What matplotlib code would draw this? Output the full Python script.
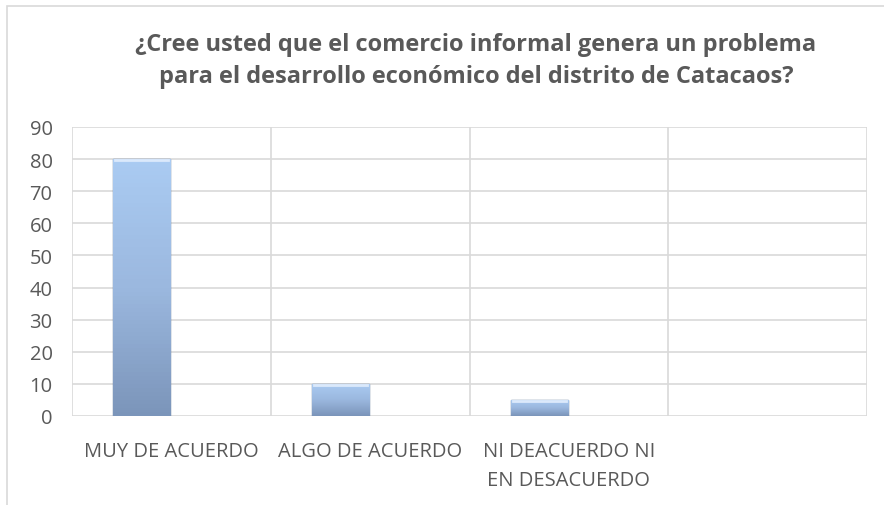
import numpy as np
import matplotlib.pyplot as plt
from matplotlib.patches import Rectangle
from matplotlib.colors import LinearSegmentedColormap

categories = ['MUY DE ACUERDO', 'ALGO DE ACUERDO', 'NI DEACUERDO NI\nEN DESACUERDO', '']
values = [80, 10, 5, None]
yticks = [0, 10, 20, 30, 40, 50, 60, 70, 80, 90]

title = ('¿Cree usted que el comercio informal genera un problema\n'
         'para el desarrollo económico del distrito de Catacaos?')

plt.rcParams['font.family'] = ['Open Sans', 'DejaVu Sans']
txt = '#595959'
grid = '#d9d9d9'

fig = plt.figure(figsize=(8.84, 5.06), dpi=100)
fig.patches.append(Rectangle((7 / 884, -0.1), 1.2, 1 - 7 / 506 + 0.1,
                             transform=fig.transFigure, fill=False,
                             edgecolor=grid, linewidth=1.2))
ax = fig.add_axes([72 / 884, 1 - 417 / 506, 795 / 884, 289 / 506])

n = len(categories)
ax.set_xlim(0, n)
ax.set_ylim(0, 90)

# gradient for the bars (light top, darker bottom)
grad = np.linspace(0, 1, 64).reshape(-1, 1)
cmap = LinearSegmentedColormap.from_list('b', ['#7b95ba', '#9bb8df', '#aacbf2'])

for i, v in enumerate(values):
    if v is None:
        continue
    x0 = i + 0.207
    w = 0.288
    bar = ax.bar(x0, v, width=w, align='edge', color='#9ab7de',
                 edgecolor='#5f7698', linewidth=1.0, zorder=3)[0]
    im = ax.imshow(grad, cmap=cmap, aspect='auto', origin='lower',
                   extent=(x0, x0 + w, 0, v), zorder=3.5)
    im.set_clip_path(bar)
    # bevel highlight on top
    ax.plot([x0 + 0.01, x0 + w - 0.01], [v - 0.4, v - 0.4], color='#dbe9fb',
            linewidth=2, zorder=4)

ax.set_yticks(yticks)
ax.set_xticks(np.arange(n) + 0.5)
ax.set_xticklabels(categories)
ax.tick_params(axis='both', length=0, labelsize=14.5, colors=txt)
ax.tick_params(axis='y', pad=14)
ax.tick_params(axis='x', pad=18)
for lab in ax.get_xticklabels():
    lab.set_linespacing(1.6)

for y in yticks:
    ax.axhline(y, color=grid, linewidth=1.2, zorder=1)
for x in range(n + 1):
    ax.axvline(x, color=grid, linewidth=1.2, zorder=1)
for s in ax.spines.values():
    s.set_visible(False)

fig.text(476 / 884, 1 - 61 / 506, title, ha='center', va='center', fontsize=17,
         fontweight='bold', color=txt, linespacing=1.4)

fig.savefig('out.png', dpi=100)
